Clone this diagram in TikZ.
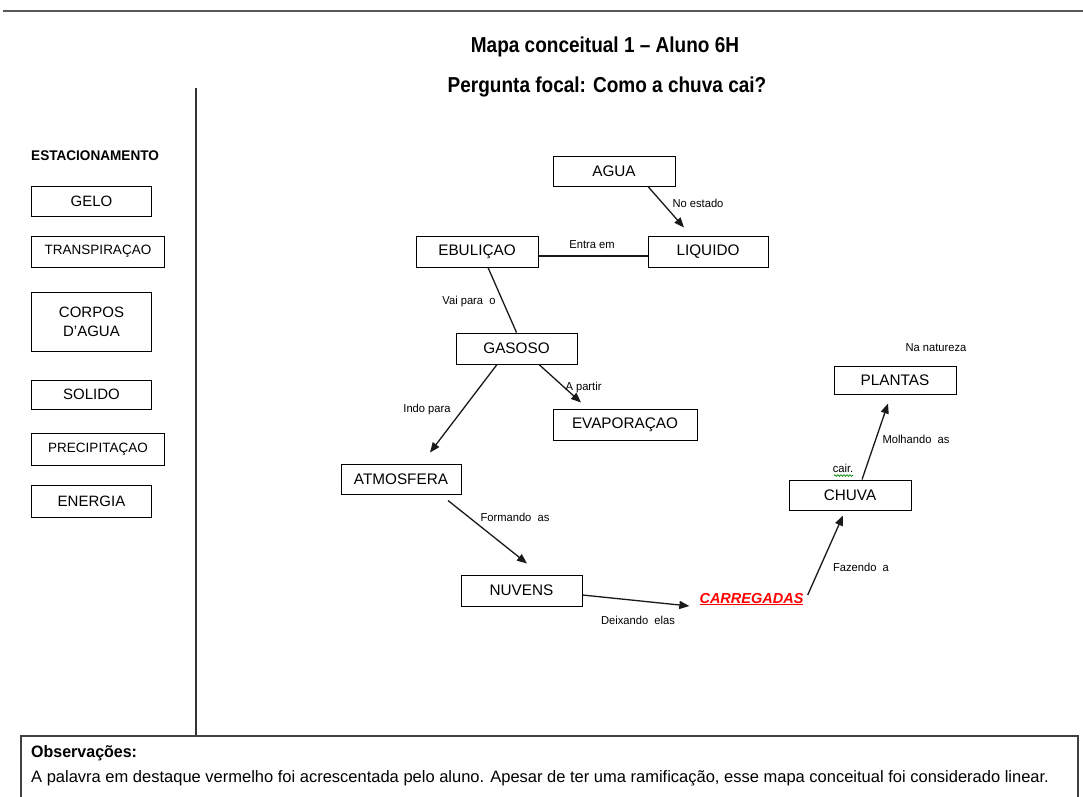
\documentclass[tikz,border=0pt]{standalone}
\usepackage{fontspec}
\setmainfont{Liberation Sans}
\newfontfamily\lblfont[FakeStretch=0.97]{Liberation Sans}
\newfontfamily\condfont[FakeStretch=0.88]{Liberation Sans}
\newfontfamily\obsfont[FakeStretch=0.97]{Liberation Sans}
\usetikzlibrary{arrows.meta,decorations.pathmorphing}
\begin{document}
\begin{tikzpicture}[x=1pt,y=-1pt,
  concept/.style={draw=black, line width=1pt, minimum width=120pt, minimum height=30pt,
    inner sep=0pt, align=center, font=\fontsize{15.3}{18}\selectfont},
  parked/.style={concept, font=\fontsize{15}{18}\selectfont},
  link/.style={line width=1.3pt, draw=black!90},
  arr/.style={link, -{Triangle[length=10pt,width=8pt]}},
  lbl/.style={font=\lblfont\fontsize{11.5}{13}\selectfont, inner sep=0pt, anchor=base}]

\useasboundingbox (0,0) rectangle (1083,796);
\fill[white] (0,0) rectangle (1083,796);

% page rule and headings
\draw[black!65, line width=1.8pt] (3,11) -- (1083,11);
\node[anchor=base, inner sep=0pt, font=\condfont\bfseries\fontsize{21.6}{25}\selectfont]
  (title) at (605,52.7) {Mapa conceitual 1 – Aluno 6H};
\node[anchor=base, inner sep=0pt, font=\condfont\bfseries\fontsize{21.6}{25}\selectfont]
  (focal) at (607,92.7) {Pergunta focal: Como a chuva cai?};

% divider between parking area and map
\draw[black!80, line width=1.2pt] (196,88) -- (196,736);

% parking lot of unused concepts
\node[anchor=base west, inner sep=0pt, font=\lblfont\bfseries\fontsize{14}{16}\selectfont]
  (park) at (31,160) {ESTACIONAMENTO};
\node[parked] (gelo) at (91.5,201) {GELO};
\node[parked, minimum width=133pt, minimum height=31pt, font=\fontsize{13.5}{16}\selectfont]
  (transp) at (98,251.5) {TRANSPIRAÇAO};
\node[parked, minimum height=59pt] (corpos) at (91.5,321.5) {CORPOS\\[1pt]D'AGUA};
\node[parked, minimum height=29pt] (solido) at (91.5,394.5) {SOLIDO};
\node[parked, minimum width=133pt, minimum height=32pt, font=\fontsize{13.5}{16}\selectfont]
  (precip) at (98,449) {PRECIPITAÇAO};
\node[parked, minimum height=32pt] (energia) at (91.5,501) {ENERGIA};

% concept map
\node[concept, minimum width=122pt] (agua) at (614,171) {AGUA};
\node[concept, minimum height=31pt] (liquido) at (708,251.5) {LIQUIDO};
\node[concept, minimum width=122pt, minimum height=31pt] (ebulicao) at (477,251.5) {EBULIÇAO};
\node[concept, minimum width=121pt, minimum height=31pt] (gasoso) at (516.5,348.5) {GASOSO};
\node[concept, minimum width=144pt, minimum height=31pt] (evaporacao) at (625,424.5) {EVAPORAÇAO};
\node[concept] (atmosfera) at (401,479) {ATMOSFERA};
\node[concept, minimum width=121pt, minimum height=31pt] (nuvens) at (521.5,590.5) {NUVENS};
\node[inner sep=1pt, text=red, font=\bfseries\itshape\fontsize{14.5}{17}\selectfont]
  (carregadas) at (751.5,599) {\underline{CARREGADAS}};
\node[concept, minimum width=122pt] (chuva) at (850,495) {CHUVA};
\node[concept, minimum width=122pt, minimum height=28pt] (plantas) at (895,380) {PLANTAS};

% links
\draw[arr] ([xshift=34pt]agua.south) -- ([xshift=-24pt,yshift=8pt]liquido.north);
\draw[link] ([yshift=-4.5pt]ebulicao.east) -- ([yshift=-4.5pt]liquido.west);
\draw[link] ([xshift=11pt]ebulicao.south) -- (gasoso.north);
\draw[arr] ([xshift=-19.5pt]gasoso.south) -- ([xshift=29pt,yshift=11pt]atmosfera.north);
\draw[arr] ([xshift=22.5pt]gasoso.south) -- ([xshift=-44pt,yshift=6pt]evaporacao.north);
\draw[arr] ([xshift=47pt,yshift=-6pt]atmosfera.south) -- ([xshift=5.5pt,yshift=11pt]nuvens.north);
\draw[arr] ([yshift=-4.5pt]nuvens.east) -- ([xshift=-9pt,yshift=-7pt]carregadas.west);
\draw[arr] ([xshift=3pt,yshift=4pt]carregadas.east) -- ([xshift=-7pt,yshift=-5pt]chuva.south);
\draw[arr] ([xshift=12pt]chuva.north) -- ([xshift=-7pt,yshift=-9pt]plantas.south);

% linking phrases
\node[lbl] (l1) at (698,207) {No estado};
\node[lbl] (l2) at (592,248) {Entra em};
\node[lbl] (l3) at (469,304) {Vai para~~o};
\node[lbl] (l4) at (427,412) {Indo para};
\node[lbl] (l5) at (583.5,390) {A partir};
\node[lbl] (l6) at (515,521) {Formando~~as};
\node[lbl] (l7) at (638,624) {Deixando~~elas};
\node[lbl] (l8) at (861,571) {Fazendo~~a};
\node[lbl] (l9) at (916,443) {Molhando~~as};
\node[lbl] (l10) at (843,472) {cair.};
\draw[green!55!black, line width=0.7pt, decorate,
  decoration={snake, amplitude=0.8pt, segment length=3pt}] (834,475.5) -- (853,475.5);
\node[lbl] (l11) at (936,351) {Na natureza};

% remarks box
\draw[black!75, line width=1.8pt] (21,800) -- (21,736) -- (1078,736) -- (1078,800);
\node[anchor=base west, inner sep=0pt, font=\obsfont\bfseries\fontsize{16.5}{19}\selectfont]
  (obs) at (31,757.7) {Observações:};
\node[anchor=base west, inner sep=0pt, font=\fontsize{16.5}{19}\selectfont]
  (note) at (31,782.7) {A palavra em destaque vermelho foi acrescentada pelo aluno. Apesar de ter uma ramificação, esse mapa conceitual foi considerado linear.};
\end{tikzpicture}
\end{document}
